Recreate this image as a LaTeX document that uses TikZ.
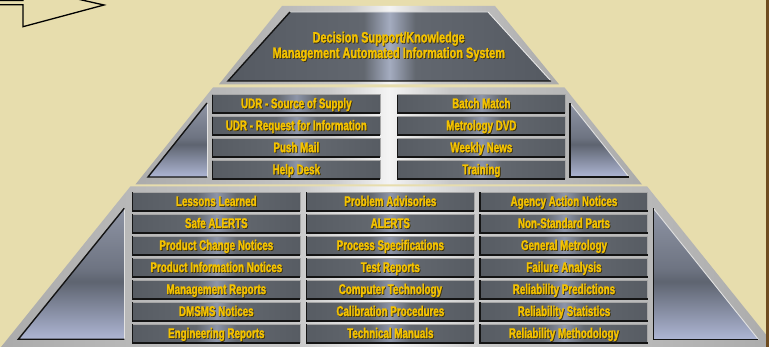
\documentclass[tikz,border=0pt]{standalone}
\usepackage{fontspec}
\newfontfamily\itemfont{Liberation Sans}[FakeStretch=0.7, FakeBold=1.6]
\newfontfamily\titlefont{Liberation Sans}[FakeStretch=0.73, FakeBold=1.6]
\definecolor{bg}{HTML}{E7DDAD}
\definecolor{brownstrip}{HTML}{6E4B1F}
\definecolor{gold}{HTML}{F4C200}
\definecolor{txtsh}{HTML}{3A3010}
\definecolor{sv1}{HTML}{ABABAB}
\definecolor{sv2}{HTML}{C8C8C8}
\definecolor{sv3}{HTML}{F4F4F4}
\definecolor{bx1}{HTML}{575C63}
\definecolor{bx2}{HTML}{62676E}
\definecolor{bx3}{HTML}{8C94A8}
\definecolor{pn1}{HTML}{555A62}
\definecolor{pn2}{HTML}{62676F}
\definecolor{pn3}{HTML}{A4ACC0}
\definecolor{tr1}{HTML}{AEB6D4}
\definecolor{tr2}{HTML}{5E6470}
\definecolor{tr2b}{HTML}{6E7482}
\definecolor{tr3}{HTML}{8E94A4}
\definecolor{darkline}{HTML}{141414}
\definecolor{lightline}{HTML}{E2E2E2}
\pgfdeclarehorizontalshading{silversh}{100bp}{color(0bp)=(sv1); color(25bp)=(sv1); color(44bp)=(sv2); color(50bp)=(sv3); color(56bp)=(sv2); color(75bp)=(sv1); color(100bp)=(sv1)}
\pgfdeclarehorizontalshading{boxsh}{100bp}{color(0bp)=(bx1); color(25bp)=(bx1); color(44bp)=(bx2); color(50bp)=(bx3); color(56bp)=(bx2); color(75bp)=(bx1); color(100bp)=(bx1)}
\pgfdeclarehorizontalshading{panelsh}{100bp}{color(0bp)=(pn1); color(25bp)=(pn1); color(46bp)=(pn2); color(50bp)=(pn3); color(54bp)=(pn2); color(75bp)=(pn1); color(100bp)=(pn1)}
\pgfdeclareverticalshading{trish}{100bp}{color(0bp)=(tr1); color(25bp)=(tr1); color(47bp)=(tr2); color(52bp)=(tr2b); color(75bp)=(tr3); color(100bp)=(tr3)}
\newcommand\shtxt[1]{\leavevmode\rlap{\kern0.8pt\raisebox{-0.8pt}{\textcolor{txtsh}{#1}}}#1}
\tikzset{
  itembox/.style={shade, shading=boxsh, minimum width=167.3pt, minimum height=18pt,
    inner sep=0pt, text height=8.6pt, text depth=0pt, text=gold,
    font={\itemfont\bfseries\fontsize{14}{14}\selectfont}},
  titletext/.style={inner sep=0pt, anchor=base, text=gold,
    font={\titlefont\bfseries\fontsize{15}{15}\selectfont}},
  darkedge/.style={draw=darkline, line width=1.4pt},
  lightedge/.style={draw=lightline, line width=0.9pt},
  boxlight/.style={draw=black!35, line width=0.8pt},
  silverframe/.style={shade, shading=silversh},
  triangleface/.style={shade, shading=trish},
}
\begin{document}
\begin{tikzpicture}[x=1pt,y=-1pt]
\useasboundingbox (0,0) rectangle (769,347);
\clip (0,0) rectangle (769,347);
\fill[bg] (0,0) rectangle (769,347);

% ---------- tier 1 ----------
\path[silverframe] (282,6) -- (495,6) -- (559,84.3) -- (219,84.3) -- cycle;
\path[shade, shading=panelsh] (290,12) -- (488,12) -- (551,81) -- (228,81) -- cycle;
\draw[draw=sv3!80!sv2, line width=0.9pt] (290,12) -- (488,12) -- (551,81);
\draw[darkedge] (290,12) -- (228,81) -- (551,81);
\node[titletext] (title1) at (388.6,42.5) {\shtxt{Decision Support/Knowledge}};
\node[titletext] (title2) at (388.8,58) {\shtxt{Management Automated Information System}};

% ---------- tier 2 ----------
\path[silverframe] (213,87.5) -- (564.5,87.5) -- (642,184.5) -- (135.4,184.5) -- cycle;
\path[triangleface] (207,103) -- (148,177) -- (207,177) -- cycle;
\draw[lightedge] (207,177) -- (207,103);
\draw[darkedge] (207,103) -- (148,177) -- (207,177);
\path[triangleface] (570,103) -- (570,177) -- (629,177) -- cycle;
\draw[lightedge] (629,177) -- (570,103);
\draw[darkedge] (570,103) -- (570,177) -- (629,177);

\foreach \t [count=\i from 0] in {UDR - Source of Supply, UDR - Request for Information, Push Mail, Help Desk}{
  \node[itembox] (ta\i) at (296.35,{103.9+22*\i}) {\shtxt{\t}};
  \draw[boxlight] (ta\i.north west) -- (ta\i.north east) -- (ta\i.south east);
  \draw[darkedge] (ta\i.north west) -- (ta\i.south west) -- (ta\i.south east);
}
\foreach \t [count=\i from 0] in {Batch Match, Metrology DVD, Weekly News, Training}{
  \node[itembox] (tb\i) at (481.35,{103.9+22*\i}) {\shtxt{\t}};
  \draw[boxlight] (tb\i.north west) -- (tb\i.north east) -- (tb\i.south east);
  \draw[darkedge] (tb\i.north west) -- (tb\i.south west) -- (tb\i.south east);
}

% ---------- tier 3 ----------
\path[silverframe] (130.5,186.3) -- (647,186.3) -- (780,352) -- (-3,352) -- cycle;
\path[triangleface] (124.3,208.3) -- (18.3,339.3) -- (124.3,339.3) -- cycle;
\draw[lightedge] (124.3,339.3) -- (124.3,208.3);
\draw[darkedge] (124.3,208.3) -- (18.3,339.3) -- (124.3,339.3);
\path[triangleface] (653.3,208.3) -- (653.3,339.3) -- (758.3,339.3) -- cycle;
\draw[lightedge] (758.3,339.3) -- (653.3,208.3);
\draw[darkedge] (653.3,208.3) -- (653.3,339.3) -- (758.3,339.3);

\foreach \t [count=\i from 0] in {Lessons Learned, Safe ALERTS, Product Change Notices, Product Information Notices, Management Reports, DMSMS Notices, Engineering Reports}{
  \node[itembox] (tc\i) at (216.35,{201.7+22*\i}) {\shtxt{\t}};
  \draw[boxlight] (tc\i.north west) -- (tc\i.north east) -- (tc\i.south east);
  \draw[darkedge] (tc\i.north west) -- (tc\i.south west) -- (tc\i.south east);
}
\foreach \t [count=\i from 0] in {Problem Advisories, ALERTS, Process Specifications, Test Reports, Computer Technology, Calibration Procedures, Technical Manuals}{
  \node[itembox] (td\i) at (390.35,{201.7+22*\i}) {\shtxt{\t}};
  \draw[boxlight] (td\i.north west) -- (td\i.north east) -- (td\i.south east);
  \draw[darkedge] (td\i.north west) -- (td\i.south west) -- (td\i.south east);
}
\foreach \t [count=\i from 0] in {Agency Action Notices, Non-Standard Parts, General Metrology, Failure Analysis, Reliability Predictions, Reliability Statistics, Reliability Methodology}{
  \node[itembox] (te\i) at (564,{201.7+22*\i}) {\shtxt{\t}};
  \draw[boxlight] (te\i.north west) -- (te\i.north east) -- (te\i.south east);
  \draw[darkedge] (te\i.north west) -- (te\i.south west) -- (te\i.south east);
}

% ---------- arrow at top left ----------
\draw[fill=bg, line width=1.3pt, line join=miter]
  (-5,0.5) -- (23,0.5) -- (23,-13.2) -- (104,5) -- (23,26.7) -- (23,4.7) -- (-5,4.7);

% ---------- brown strip ----------
\fill[brownstrip] (765.8,0) rectangle (769,347);
\end{tikzpicture}
\end{document}
